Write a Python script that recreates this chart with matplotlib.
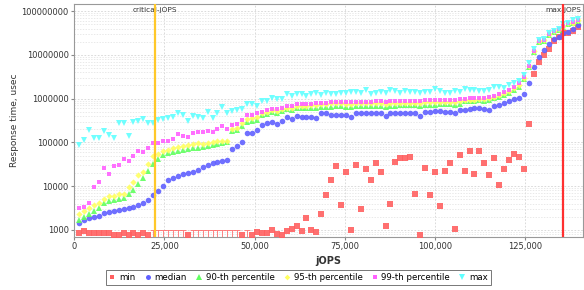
import matplotlib
matplotlib.use('Agg')
import matplotlib.pyplot as plt
from matplotlib.ticker import FixedLocator, FuncFormatter, LogLocator, NullFormatter
from matplotlib.lines import Line2D

# jOPS steps of the response-time curve
jops = [1370, 2740, 4110, 5480, 6850, 8220, 9590, 10960, 12330, 13700,
        15070, 16440, 17810, 19180, 20550, 21920, 23290, 24660, 26030, 27400,
        28770, 30140, 31510, 32880, 34250, 35620, 36990, 38360, 39730, 41100,
        42470, 43840, 45210, 46580, 47950, 49320, 50690, 52060, 53430, 54800,
        56170, 57540, 58910, 60280, 61650, 63020, 64390, 65760, 67130, 68500,
        69870, 71240, 72610, 73980, 75350, 76720, 78090, 79460, 80830, 82200,
        83570, 84940, 86310, 87680, 89050, 90420, 91790, 93160, 94530, 95900,
        97270, 98640, 100010, 101380, 102750, 104120, 105490, 106860, 108230, 109600,
        110970, 112340, 113710, 115080, 116450, 117820, 119190, 120560, 121930, 123300,
        124670, 126040, 127410, 128780, 130150, 131520, 132890, 134260, 135630, 137000,
        138370, 139740]

# 0 = below the axis range (drawn as a tick mark)
rt_min = [870, 965, 870, 870, 870, 870, 870, 770, 770, 870,
          770, 870, 770, 870, 770, 0, 0, 0, 0, 0,
          0, 0, 770, 0, 0, 0, 0, 0, 0, 0,
          0, 0, 0, 770, 0, 770, 915, 840, 840, 1000,
          810, 770, 950, 1040, 1230, 950, 1850, 1000, 915, 2320,
          6300, 13900, 28900, 3720, 21400, 1000, 30500, 2970, 24700, 13900,
          33400, 21400, 1250, 3860, 35100, 43400, 43400, 45700, 6530, 770,
          25700, 6300, 21400, 3530, 22600, 34400, 1040, 51500, 22200, 64600,
          19000, 64600, 34400, 18000, 45100, 10700, 24700, 39600, 53500, 47200,
          24700, 259000, 3590000, 6800000, 9900000, 13400000, 20600000, 25100000, 31000000, 32100000,
          35400000, 42400000]

rt_median = [1470, 1650, 1830, 1980, 2090, 2380, 2510, 2710, 2860, 3010,
             3180, 3350, 3630, 4130, 4840, 6130, 7760, 10100, 13500, 15100,
             16700, 18500, 19700, 20700, 23400, 27000, 30500, 33400, 35100, 37600,
             39600, 70600, 82800, 100500, 167000, 167000, 192000, 250000, 273000, 287000,
             263000, 308000, 374000, 342000, 401000, 386000, 386000, 374000, 367000, 461000,
             461000, 423000, 423000, 423000, 423000, 386000, 461000, 461000, 461000, 461000,
             461000, 461000, 401000, 479000, 479000, 479000, 479000, 479000, 479000, 401000,
             503000, 503000, 521000, 521000, 503000, 503000, 461000, 550000, 550000, 579000,
             601000, 601000, 570000, 550000, 678000, 715000, 782000, 860000, 965000, 1020000,
             1260000, 2300000, 5310000, 9000000, 12900000, 17300000, 22600000, 25100000, 31000000, 33800000,
             38300000, 47900000]

rt_p90 = [1690, 1980, 2320, 2710, 3180, 4130, 4470, 4710, 5020, 5470,
          6530, 8190, 11200, 15400, 22200, 32100, 41800, 50200, 55800, 59400,
          62000, 65300, 68800, 72500, 74500, 77200, 82800, 87300, 91800, 99000,
          100500, 178000, 188000, 231000, 297000, 313000, 324000, 423000, 438000, 487000,
          479000, 521000, 570000, 550000, 620000, 601000, 620000, 601000, 620000, 652000,
          652000, 652000, 678000, 678000, 652000, 632000, 678000, 678000, 678000, 678000,
          678000, 678000, 652000, 690000, 690000, 703000, 703000, 703000, 703000, 678000,
          715000, 726000, 726000, 741000, 741000, 741000, 715000, 770000, 860000, 860000,
          860000, 929000, 900000, 929000, 1020000, 1100000, 1210000, 1360000, 1570000, 1860000,
          2750000, 5310000, 11800000, 20000000, 21300000, 28300000, 33800000, 36800000, 44000000, 50500000,
          52500000, 60300000]

rt_p95 = [2320, 2640, 3180, 3660, 4130, 5100, 5910, 5880, 6640, 6740,
          9350, 12500, 18000, 21100, 32100, 47700, 54300, 62600, 67000, 73300,
          78500, 82800, 87300, 90400, 94300, 91800, 96800, 100500, 106000, 106000,
          109000, 199000, 210000, 273000, 342000, 355000, 386000, 461000, 503000, 550000,
          530000, 579000, 620000, 620000, 678000, 678000, 690000, 715000, 715000, 741000,
          753000, 774000, 774000, 774000, 766000, 753000, 781000, 781000, 781000, 781000,
          781000, 794000, 766000, 794000, 794000, 808000, 808000, 808000, 808000, 781000,
          822000, 822000, 836000, 836000, 822000, 822000, 836000, 900000, 929000, 929000,
          944000, 1000000, 980000, 1020000, 1100000, 1210000, 1320000, 1490000, 1720000, 2050000,
          3000000, 5500000, 12200000, 20600000, 21800000, 29800000, 34900000, 38300000, 45000000, 52700000,
          54700000, 61500000]

rt_p99 = [3130, 3300, 4070, 9440, 12700, 25700, 19000, 28900, 30500, 41100,
          38200, 49000, 64600, 61300, 73300, 95300, 98000, 107600, 107600, 118000,
          155600, 140000, 130500, 161000, 170000, 176000, 182000, 176000, 199000, 231000,
          202000, 250000, 263000, 324000, 423000, 423000, 461000, 503000, 550000, 570000,
          570000, 620000, 690000, 690000, 741000, 741000, 753000, 753000, 781000, 808000,
          808000, 822000, 836000, 836000, 836000, 822000, 850000, 850000, 850000, 850000,
          866000, 866000, 850000, 881000, 881000, 881000, 881000, 900000, 900000, 866000,
          915000, 915000, 929000, 929000, 915000, 929000, 929000, 980000, 1000000, 1020000,
          1020000, 1060000, 1060000, 1070000, 1170000, 1270000, 1390000, 1590000, 1840000, 2240000,
          3170000, 5700000, 12400000, 21300000, 22300000, 30300000, 35400000, 38800000, 45800000, 52500000,
          55300000, 62400000]

rt_max = [87300, 113500, 192000, 126000, 126000, 182000, 147500, 126000, 277000, 277000,
          140000, 292000, 308000, 342000, 277000, 277000, 324000, 342000, 361000, 380000,
          469000, 423000, 308000, 401000, 380000, 367000, 503000, 367000, 479000, 652000,
          461000, 530000, 550000, 570000, 753000, 753000, 690000, 860000, 860000, 1050000,
          965000, 980000, 1270000, 1150000, 1270000, 1270000, 1150000, 1270000, 1320000, 1210000,
          1370000, 1250000, 1250000, 1320000, 1320000, 1390000, 1440000, 1320000, 1570000, 1270000,
          1320000, 1440000, 1320000, 1570000, 1490000, 1320000, 1520000, 1390000, 1440000, 1320000,
          1390000, 1390000, 1630000, 1520000, 1320000, 1320000, 1500000, 1440000, 1630000, 1570000,
          1570000, 1520000, 1520000, 1570000, 1810000, 1810000, 1720000, 2050000, 2300000, 2540000,
          3460000, 6360000, 13400000, 21800000, 22600000, 32300000, 35400000, 38300000, 49700000, 54700000,
          62400000, 64800000]

critical_jops = 22500
max_jops = 135500

fig = plt.figure(figsize=(5.84, 2.90), dpi=100)
ax = fig.add_axes([0.127, 0.183, 0.871, 0.803])

# min: real points as squares, off-scale ones as tick marks
mx = [x for x, v in zip(jops, rt_min) if v > 0]
my = [v for v in rt_min if v > 0]
tx = [x for x, v in zip(jops, rt_min) if v == 0]
ax.errorbar(tx, [1000] * len(tx), yerr=[[500] * len(tx), [0] * len(tx)], fmt='none',
            ecolor='#ff7070', elinewidth=0.6, capsize=2, capthick=0.6, zorder=3)

series = [
    ('min', mx, my, 's', '#ff6060', 3.7),
    ('median', jops, rt_median, 'o', '#6060ff', 4.0),
    ('90-th percentile', jops, rt_p90, '^', '#60ff60', 4.3),
    ('95-th percentile', jops, rt_p95, 'D', '#ffff60', 3.2),
    ('99-th percentile', jops, rt_p99, 's', '#ff60ff', 3.5),
    ('max', jops, rt_max, 'v', '#60ffff', 4.3),
]
for name, xs, ys, mk, col, ms in series:
    ax.plot(xs, ys, linestyle='none', marker=mk, color=col, markersize=ms,
            markeredgewidth=0, alpha=0.9, zorder=4)

ax.axvline(critical_jops, color='#ffc82a', lw=1.6, zorder=5)
ax.axvline(max_jops, color='#ff3030', lw=1.6, zorder=5)
ax.text(critical_jops, 1.05e8, 'critical-jOPS', ha='center', va='center', fontsize=5.3, color='#333333')
ax.text(max_jops, 1.05e8, 'max-jOPS', ha='center', va='center', fontsize=5.3, color='#333333')

ax.set_yscale('log')
ax.set_ylim(690, 1.45e8)
ax.set_xlim(0, 141000)
ax.yaxis.set_major_locator(FixedLocator([1e3, 1e4, 1e5, 1e6, 1e7, 1e8]))
ax.yaxis.set_major_formatter(FuncFormatter(lambda v, p: '%d' % round(v)))
ax.yaxis.set_minor_locator(LogLocator(base=10, subs=range(2, 10)))
ax.yaxis.set_minor_formatter(NullFormatter())
ax.xaxis.set_major_locator(FixedLocator([0, 25000, 50000, 75000, 100000, 125000]))
ax.xaxis.set_major_formatter(FuncFormatter(lambda v, p: '{:,}'.format(int(v))))

ax.grid(True, which='major', color='#d4d4d4', linestyle=(0, (2, 2)), linewidth=0.6)
ax.grid(True, which='minor', axis='y', color='#e0e0e0', linestyle=(0, (2, 2)), linewidth=0.5)
ax.set_axisbelow(True)

ax.tick_params(axis='both', which='major', labelsize=6, length=2, color='#888888', labelcolor='#333333', pad=2)
ax.tick_params(axis='y', which='minor', length=0)
for s in ax.spines.values():
    s.set_color('#999999')
    s.set_linewidth(0.8)

ax.set_ylabel('Response time, usec', fontsize=6.5, color='#333333', labelpad=2)
ax.set_xlabel('jOPS', fontsize=7, fontweight='bold', color='#333333', labelpad=3)

handles = [Line2D([], [], linestyle='none', marker=mk, color=col, markersize=ms * 0.9,
                  markeredgewidth=0, label=name)
           for name, xs, ys, mk, col, ms in series]
leg = fig.legend(handles=handles, loc='lower center', bbox_to_anchor=(0.511, 0.003), ncol=6,
                 fontsize=6.2, frameon=True, fancybox=False, handlelength=0.8,
                 handletextpad=0.4, columnspacing=1.0, borderpad=0.35)
leg.get_frame().set_edgecolor('#555555')
leg.get_frame().set_linewidth(0.7)

fig.savefig('out.png', dpi=100)
